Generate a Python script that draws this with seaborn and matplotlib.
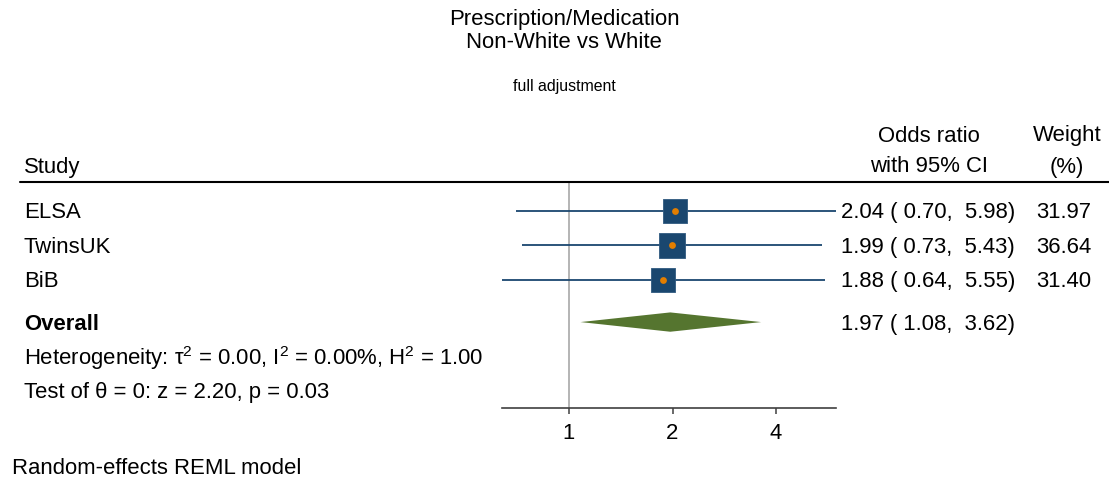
import numpy as np
import pandas as pd
import matplotlib
matplotlib.use("Agg")
import matplotlib.pyplot as plt
import matplotlib.transforms as mtransforms
from matplotlib.lines import Line2D
import seaborn as sns

# ---------------- data ----------------
studies = ["ELSA", "TwinsUK", "BiB"]
or_est = [2.04, 1.99, 1.88]
ci_low = [0.70, 0.73, 0.64]
ci_high = [5.98, 5.43, 5.55]
weights = [31.97, 36.64, 31.40]
overall_est = 1.97
overall_low = 1.08
overall_high = 3.62
het_tau2 = 0.00
het_i2 = 0.00
het_h2 = 1.00
test_z = 2.20
test_p = 0.03
xticks = [1, 2, 4]
title_lines = ["Prescription/Medication", "Non-White vs White"]
subtitle = "full adjustment"
note = "Random-effects REML model"

# ---------------- style ----------------
sns.set_theme(style="white")
plt.rcParams["font.family"] = ["Liberation Sans", "DejaVu Sans"]
plt.rcParams["mathtext.fontset"] = "custom"
plt.rcParams["mathtext.rm"] = "Liberation Sans"
plt.rcParams["mathtext.default"] = "regular"
plt.rcParams["text.color"] = "black"

NAVY = "#1a476f"
GREEN = "#55752f"
ORANGE = "#e37e00"
FS = 15.9

W, H = 1109, 480
fig = plt.figure(figsize=(W / 100, H / 100), dpi=100)

def fx(px):
    return px / W

def fy(py):
    return 1 - py / H

# axes geometry (pixels)
x_one = 569.0
px_per_doubling = 103.5
xmin, xmax = min(ci_low), max(ci_high)
left_px = x_one + px_per_doubling * np.log2(xmin)
right_px = x_one + px_per_doubling * np.log2(xmax)
top_px, bot_px = 183, 408
ax = fig.add_axes([fx(left_px), fy(bot_px), fx(right_px - left_px), (bot_px - top_px) / H])
ax.set_xscale("log")
ax.set_xlim(xmin, xmax)

rows = [1.0, 2.0, 3.0]
y_overall = 4.22
y_het = 5.2
y_test = 6.19
ax.set_ylim(6.71, 0.19)

df = pd.DataFrame({"study": studies, "or": or_est, "lo": ci_low, "hi": ci_high,
                   "w": weights, "row": rows})

# reference line at 1
ax.axvline(1, color="#a0a0a0", lw=1.1, zorder=1)

# CI lines
ax.hlines(df["row"], df["lo"], df["hi"], color=NAVY, lw=1.3, zorder=2)

# weighted squares
k = 9.4
sns.scatterplot(data=df, x="or", y="row", size="w",
                sizes=(k * min(weights), k * max(weights)),
                marker="s", color=NAVY, edgecolor="#2f5a80", linewidth=0.6,
                legend=False, ax=ax, zorder=3)
# point estimate dots
sns.scatterplot(data=df, x="or", y="row", s=24, color=ORANGE, linewidth=0,
                legend=False, ax=ax, zorder=4)

# overall diamond
half_h = 0.28
ax.fill([overall_low, overall_est, overall_high, overall_est],
        [y_overall, y_overall - half_h, y_overall, y_overall + half_h],
        color=GREEN, lw=0, zorder=3)

# axes styling
for s in ["top", "right", "left"]:
    ax.spines[s].set_visible(False)
ax.spines["bottom"].set_color("#404040")
ax.spines["bottom"].set_linewidth(1.2)
ax.set_xticks(xticks)
ax.set_xticklabels([str(t) for t in xticks])
ax.xaxis.set_minor_locator(matplotlib.ticker.NullLocator())
ax.tick_params(axis="x", which="major", bottom=True, length=4.5, width=1.1,
               color="#404040", labelsize=FS, pad=6, labelcolor="black")
ax.set_yticks([])
ax.set_xlabel("")
ax.set_ylabel("")
ax.patch.set_alpha(0)

# ---------------- text ----------------
tr0 = mtransforms.blended_transform_factory(fig.transFigure, ax.transData)
tr = mtransforms.offset_copy(tr0, fig=fig, x=0, y=-2, units="dots")
for name, r, o, lo, hi, w in zip(studies, rows, or_est, ci_low, ci_high, weights):
    fig.text(fx(24), r, name, transform=tr, fontsize=FS, va="center", ha="left")
    fig.text(fx(841), r, f"{o:.2f} ({lo:5.2f}, {hi:5.2f})", transform=tr,
             fontsize=FS, va="center", ha="left")
    fig.text(fx(1091), r, f"{w:.2f}", transform=tr, fontsize=FS, va="center", ha="right")

fig.text(fx(24), y_overall, "Overall", transform=tr, fontsize=FS, fontweight="bold",
         va="center", ha="left")
fig.text(fx(841), y_overall, f"{overall_est:.2f} ({overall_low:5.2f}, {overall_high:5.2f})",
         transform=tr, fontsize=FS, va="center", ha="left")
fig.text(fx(24), y_het,
         f"Heterogeneity: τ$^2$ = {het_tau2:.2f}, I$^2$ = {het_i2:.2f}%, H$^2$ = {het_h2:.2f}",
         transform=tr, fontsize=FS, va="center", ha="left")
fig.text(fx(24), y_test, f"Test of θ = 0: z = {test_z:.2f}, p = {test_p:.2f}",
         transform=tr, fontsize=FS, va="center", ha="left")

# headers
fig.text(fx(24), fy(167), "Study", fontsize=FS, va="center", ha="left")
fig.text(fx(929), fy(136), "Odds ratio", fontsize=FS, va="center", ha="center")
fig.text(fx(929), fy(167), "with 95% CI", fontsize=FS, va="center", ha="center")
fig.text(fx(1067), fy(136), "Weight", fontsize=FS, va="center", ha="center")
fig.text(fx(1067), fy(167), "(%)", fontsize=FS, va="center", ha="center")
fig.add_artist(Line2D([fx(20), 1.0], [fy(182), fy(182)], color="black", lw=1.5,
                      transform=fig.transFigure))

# titles
fig.text(fx(564), fy(20), title_lines[0], fontsize=FS, va="center", ha="center")
fig.text(fx(564), fy(43), title_lines[1], fontsize=FS, va="center", ha="center")
fig.text(fx(564), fy(86), subtitle, fontsize=11.4, va="center", ha="center")
fig.text(fx(12), fy(468), note, fontsize=FS, va="center", ha="left")

fig.savefig("out.png", dpi=100)
